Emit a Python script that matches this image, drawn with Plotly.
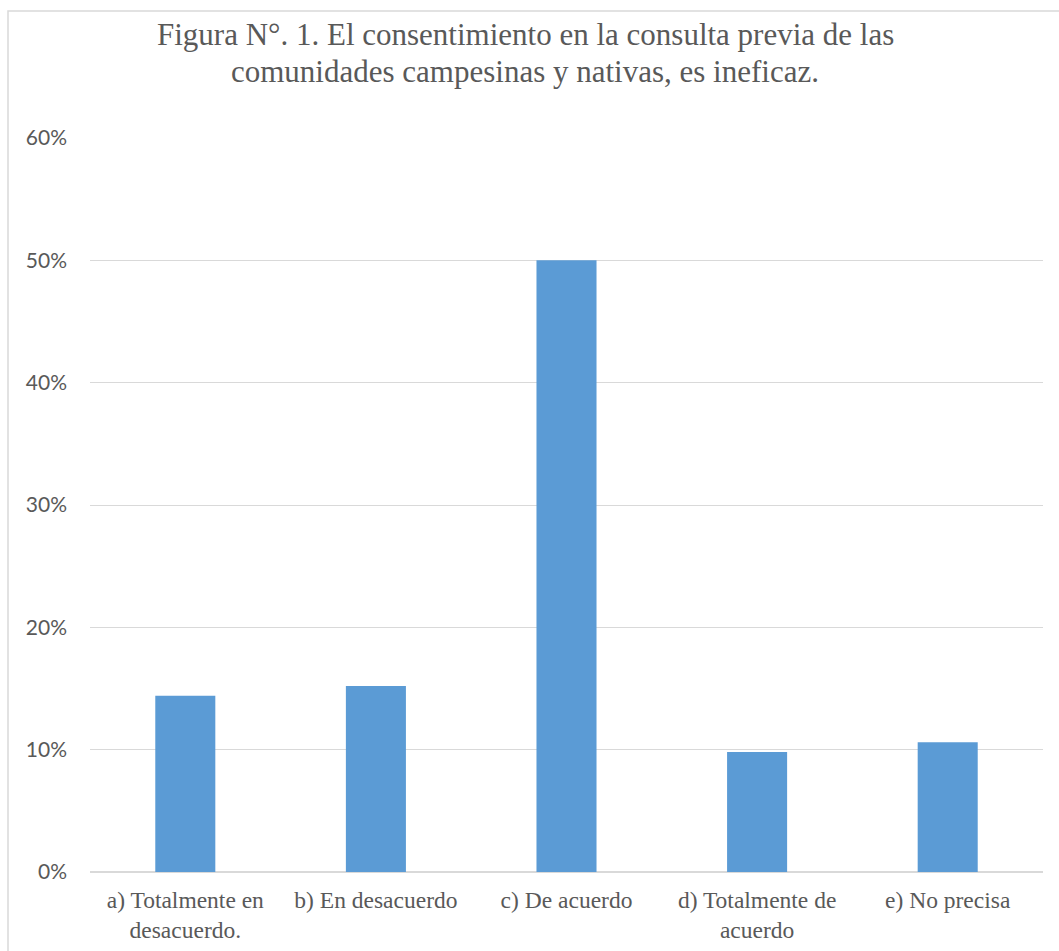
import plotly.graph_objects as go

categories = ["a) Totalmente en<br>desacuerdo.", "b) En desacuerdo", "c) De acuerdo",
              "d) Totalmente de<br>acuerdo", "e) No precisa"]
values = [0.144, 0.152, 0.50, 0.098, 0.106]
tick_vals = [0, 0.1, 0.2, 0.3, 0.4, 0.5, 0.6]
tick_text = ["0%", "10%", "20%", "30%", "40%", "50%", "60%"]
title_lines = ["Figura N°. 1. El consentimiento en la consulta previa de las",
               "comunidades campesinas y nativas, es ineficaz."]

W, H = 1059, 951
L, R, T, B = 90, 16, 138, 79
pw, ph = W - L - R, H - T - B

def px_x(x):
    return (x - L) / pw

def px_y(y):
    return (H - B - y) / ph

fig = go.Figure(go.Bar(
    x=categories, y=values,
    marker=dict(color="#5b9bd5", line=dict(width=0)),
))

title_font = dict(family="Liberation Serif", size=31, color="#595959")
annotations = [
    dict(text=title_lines[0], xref="paper", yref="paper", x=px_x(525), y=px_y(35),
         xanchor="center", yanchor="middle", showarrow=False, font=title_font),
    dict(text=title_lines[1], xref="paper", yref="paper", x=px_x(525), y=px_y(72),
         xanchor="center", yanchor="middle", showarrow=False, font=title_font),
]

fig.update_layout(
    width=W, height=H,
    margin=dict(l=L, r=R, t=T, b=B),
    paper_bgcolor="white", plot_bgcolor="white",
    bargap=0.685,
    showlegend=False,
    annotations=annotations,
    xaxis=dict(showgrid=False, showline=False, ticks="", ticklabelstandoff=11,
               automargin=False,
               tickfont=dict(family="Liberation Serif", size=23.5, color="#595959")),
    yaxis=dict(range=[0, 0.6], tickvals=tick_vals, ticktext=tick_text,
               showgrid=True, gridcolor="#d9d9d9", gridwidth=1,
               zeroline=True, zerolinecolor="#d9d9d9", zerolinewidth=1.5,
               showline=False, ticks="", ticklabelstandoff=22, automargin=False,
               tickfont=dict(family="Lato", size=21, color="#595959")),
    shapes=[dict(type="rect", xref="paper", yref="paper",
                 x0=px_x(8), x1=px_x(1080), y0=px_y(1000), y1=px_y(11),
                 line=dict(color="#d9d9d9", width=1.5), fillcolor="rgba(0,0,0,0)", layer="below")],
)

fig.write_html("out.html")
